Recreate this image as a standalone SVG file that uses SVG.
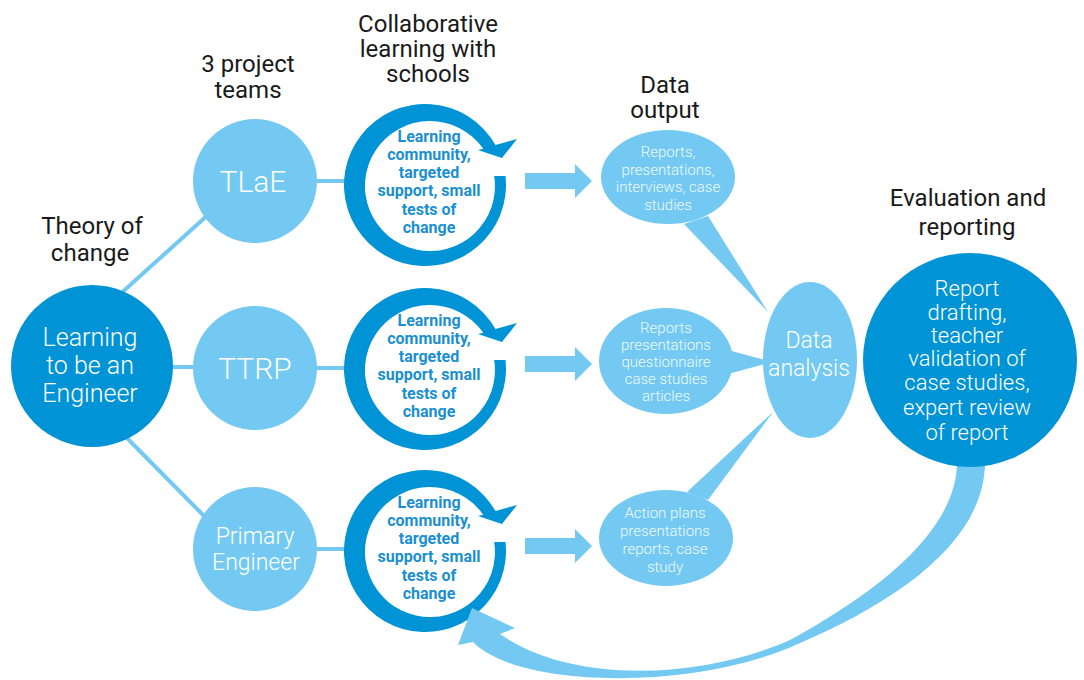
<svg xmlns="http://www.w3.org/2000/svg" width="1084" height="680" viewBox="0 0 1084 680">
<style>
text{font-family:Roboto,"Liberation Sans",sans-serif;text-anchor:middle}
.hd{font-size:24px;fill:#1a1a1a}
.lt{fill:#73c9f2}
.dk{fill:#0093d6}
.ln{stroke:#73c9f2;stroke-width:4;fill:none}
.w{fill:#fff;font-weight:300}
.wo{fill:#f0f9fe;font-weight:300;font-size:15px}
.rt{fill:#1a8fd1;font-weight:700;font-size:16px}
</style>
<defs>
<path id="ring" class="dk" d="M505.5,176 A81,81 0 1 1 495.5,145.1 L517,139 L502,158 L478,150 L483.2,148.7 A65,65 0 1 0 494.2,176 Z"/>
<path id="blk" class="lt" d="M525,173 L575,173 L575,164 L592,181 L575,198 L575,189 L525,189 Z"/>
</defs>

<g id="headings">
<text class="hd" x="428" y="32" font-size="23">Collaborative</text>
<text class="hd" x="428" y="57" font-size="23">learning with</text>
<text class="hd" x="428" y="82" font-size="23">schools</text>
<text class="hd" x="248" y="72">3 project</text>
<text class="hd" x="248" y="98">teams</text>
<text class="hd" x="665" y="93">Data</text>
<text class="hd" x="665" y="118">output</text>
<text class="hd" x="92" y="234">Theory of</text>
<text class="hd" x="90" y="261">change</text>
<text class="hd" x="968" y="206">Evaluation and</text>
<text class="hd" x="967" y="235">reporting</text>
</g>

<g id="connectors">
<line class="ln" x1="118" y1="296" x2="210" y2="213"/>
<line class="ln" x1="165" y1="367" x2="200" y2="367"/>
<line class="ln" x1="122" y1="433" x2="208" y2="520"/>
<line class="ln" x1="312" y1="181" x2="346" y2="181"/>
<line class="ln" x1="312" y1="368" x2="346" y2="368"/>
<line class="ln" x1="312" y1="549" x2="346" y2="549"/>
<use href="#blk"/>
<use href="#blk" transform="translate(0,183)"/>
<use href="#blk" transform="translate(0,365)"/>
<path class="lt" d="M684,224 L708,216 L768,312 Z"/>
<path class="lt" d="M728,350 L728,374 L772,362 Z"/>
<path class="lt" d="M687,492 L708,500 L773,412 Z"/>
</g>

<g id="main">
<circle class="dk" cx="92" cy="366" r="81"/>
<text class="w" font-size="25" x="90" y="346">Learning</text>
<text class="w" font-size="25" x="90" y="374">to be an</text>
<text class="w" font-size="25" x="90" y="402">Engineer</text>
</g>

<g id="tlae">
<circle class="lt" cx="255" cy="181" r="62"/>
<text class="w" font-size="30" x="253" y="192">TLaE</text>
</g>
<g id="ttrp">
<circle class="lt" cx="255" cy="368" r="62"/>
<text class="w" font-size="30" x="255" y="379">TTRP</text>
</g>
<g id="primary">
<circle class="lt" cx="255" cy="549" r="62"/>
<text class="w" font-size="23" x="255" y="544">Primary</text>
<text class="w" font-size="23" x="256" y="570">Engineer</text>
</g>

<g id="ring1">
<use href="#ring"/>
<text class="rt" x="429" y="142">Learning</text>
<text class="rt" x="429" y="160">community,</text>
<text class="rt" x="429" y="178">targeted</text>
<text class="rt" x="429" y="196">support, small</text>
<text class="rt" x="429" y="215">tests of</text>
<text class="rt" x="429" y="233">change</text>
</g>
<g id="ring2" transform="translate(0,184)">
<use href="#ring"/>
<text class="rt" x="429" y="142">Learning</text>
<text class="rt" x="429" y="160">community,</text>
<text class="rt" x="429" y="178">targeted</text>
<text class="rt" x="429" y="196">support, small</text>
<text class="rt" x="429" y="215">tests of</text>
<text class="rt" x="429" y="233">change</text>
</g>
<g id="ring3" transform="translate(0,366)">
<use href="#ring"/>
<text class="rt" x="429" y="142">Learning</text>
<text class="rt" x="429" y="160">community,</text>
<text class="rt" x="429" y="178">targeted</text>
<text class="rt" x="429" y="196">support, small</text>
<text class="rt" x="429" y="215">tests of</text>
<text class="rt" x="429" y="233">change</text>
</g>

<g id="out1">
<ellipse class="lt" cx="668" cy="177" rx="67" ry="47"/>
<text class="wo" x="668" y="157">Reports,</text>
<text class="wo" x="668" y="175">presentations,</text>
<text class="wo" x="668" y="192">interviews, case</text>
<text class="wo" x="668" y="210">studies</text>
</g>
<g id="out2">
<ellipse class="lt" cx="666" cy="361" rx="67" ry="53"/>
<text class="wo" x="666" y="333">Reports</text>
<text class="wo" x="666" y="350">presentations</text>
<text class="wo" x="666" y="367">questionnaire</text>
<text class="wo" x="666" y="384">case studies</text>
<text class="wo" x="666" y="401">articles</text>
</g>
<g id="out3">
<ellipse class="lt" cx="666" cy="538" rx="67" ry="48"/>
<text class="wo" x="665" y="518">Action plans</text>
<text class="wo" x="665" y="536">presentations</text>
<text class="wo" x="665" y="554">reports, case</text>
<text class="wo" x="665" y="572">study</text>
</g>

<g id="analysis">
<ellipse class="lt" cx="810" cy="360" rx="47" ry="78"/>
<text class="w" font-size="23" x="809" y="348">Data</text>
<text class="w" font-size="23" x="809" y="376">analysis</text>
</g>

<g id="feedback">
<path class="lt" d="M957,462 C957,520 900,580 790,640 C700,680 570,684 500,634 L515,628 L472,608 L458,645 L473,642 C520,690 700,690 800,643 C900,600 985,540 985,462 Z"/>
</g>

<g id="evaluation">
<circle class="dk" cx="970" cy="360" r="107"/>
<text class="w" font-size="22" x="967" y="296">Report</text>
<text class="w" font-size="22" x="967" y="320">drafting,</text>
<text class="w" font-size="22" x="967" y="343">teacher</text>
<text class="w" font-size="22" x="967" y="366">validation of</text>
<text class="w" font-size="22" x="967" y="390">case studies,</text>
<text class="w" font-size="22" x="967" y="415">expert review</text>
<text class="w" font-size="22" x="967" y="440">of report</text>
</g>
</svg>
